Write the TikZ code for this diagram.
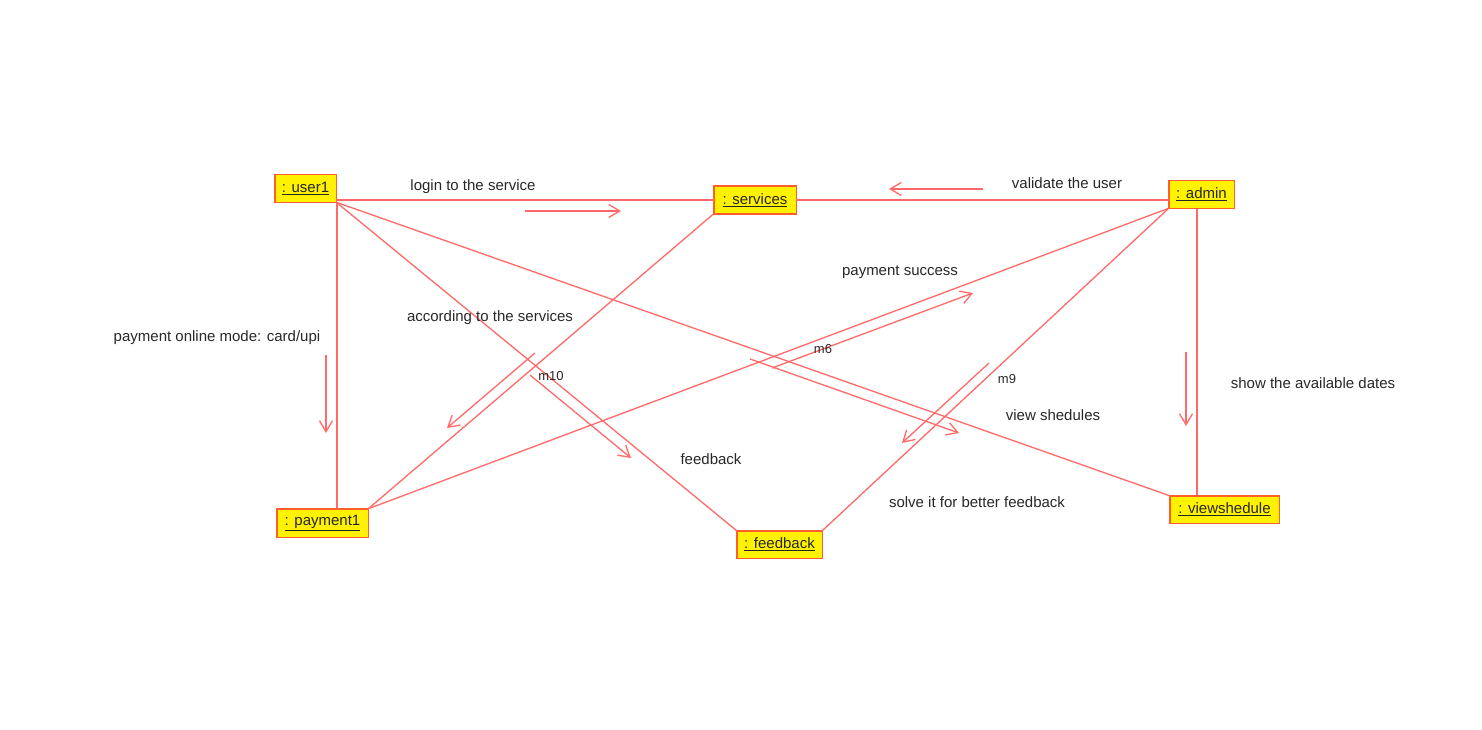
\documentclass[tikz,border=0pt]{standalone}
\usepackage{fontspec}
\setmainfont{Liberation Sans}
\usetikzlibrary{arrows.meta}
\definecolor{linkred}{RGB}{255,105,105}
\definecolor{boxedge}{RGB}{255,95,45}
\definecolor{txt}{RGB}{40,40,40}
\tikzset{
  objbox/.style={draw=boxedge, line width=1.5pt, fill=yellow, inner sep=0pt, outer sep=0pt,
    font=\fontsize{15}{18}\selectfont, text=black!85},
  link/.style={draw=linkred, line width=1.3pt},
  msg/.style={draw=linkred, line width=1.3pt, -{Straight Barb[length=11pt,width=13pt,line width=1.3pt]}},
  lbl/.style={font=\fontsize{15}{18}\selectfont, text=txt, inner sep=0pt},
  mlbl/.style={font=\fontsize{13}{15}\selectfont, text=txt, inner sep=0pt}
}
\begin{document}
\begin{tikzpicture}[x=1pt,y=-1pt]
\useasboundingbox[fill=white] (0,0) rectangle (1482,730);
% objects
\node[objbox, minimum width=61.5pt, minimum height=27.5pt] (user1) at (305.5,188.5) {\underline{: user1}};
\node[objbox, minimum width=82.5pt, minimum height=27.5pt] (services) at (755,200) {\underline{: services}};
\node[objbox, minimum width=65.5pt, minimum height=27.5pt] (admin) at (1201.5,194.5) {\underline{: admin}};
\node[objbox, minimum width=91.5pt, minimum height=28.5pt] (payment1) at (322.5,523) {\underline{: payment1}};
\node[objbox, minimum width=85.5pt, minimum height=27.5pt] (feedback) at (779.5,544.5) {\underline{: feedback}};
\node[objbox, minimum width=109.5pt, minimum height=27.5pt] (viewshedule) at (1224.5,509.5) {\underline{: viewshedule}};
% links
\draw[link] (user1.east |- services.west) -- (services.west);
\draw[link] (services.east) -- (admin.west |- services.east);
\draw[link] ([xshift=0.75pt]user1.south east) -- ([xshift=0.75pt]user1.south east |- payment1.north);
\draw[link] (user1.south east) -- (feedback.north west);
\draw[link] (user1.south east) -- (viewshedule.north west);
\draw[link] (services.south west) -- (payment1.north east);
\draw[link] (admin.south west) -- (payment1.north east);
\draw[link] (admin.south west) -- (feedback.north east);
\draw[link] ([xshift=-4.5pt]admin.south) -- ([xshift=-4.5pt]admin.south |- viewshedule.north);
% message arrow ends
\coordinate (m1s) at (525,211); \coordinate (m1e) at (621,211);
\coordinate (m2s) at (983,189); \coordinate (m2e) at (889,189);
\coordinate (m3s) at (326,355); \coordinate (m3e) at (326,433);
\coordinate (m4s) at (1186,352); \coordinate (m4e) at (1186,426);
\coordinate (m5s) at (535,353); \coordinate (m5e) at (447,428);
\coordinate (m6s) at (530,375); \coordinate (m6e) at (631,458);
\coordinate (m7s) at (772,368); \coordinate (m7e) at (973,293);
\coordinate (m8s) at (750,359); \coordinate (m8e) at (959,433);
\coordinate (m9s) at (989,363); \coordinate (m9e) at (902,443);
\draw[msg] (m1s) -- (m1e);
\draw[msg] (m2s) -- (m2e);
\draw[msg] (m3s) -- (m3e);
\draw[msg] (m4s) -- (m4e);
\draw[msg] (m5s) -- (m5e);
\draw[msg] (m6s) -- (m6e);
\draw[msg] (m7s) -- (m7e);
\draw[msg] (m8s) -- (m8e);
\draw[msg] (m9s) -- (m9e);
% labels
\node[lbl] (l1) at (473,187) {login to the service};
\node[lbl] (l2) at (1067,183) {validate the user};
\node[lbl] (l3) at (217,338) {payment online mode: card/upi};
\node[lbl] (l4) at (1313,383) {show the available dates};
\node[lbl] (l5) at (490,318) {according to the services};
\node[mlbl] (l6) at (551,376) {m10};
\node[lbl] (l7) at (711,459) {feedback};
\node[lbl] (l8) at (900,272) {payment success};
\node[mlbl] (l9) at (823,349) {m6};
\node[lbl] (l10) at (1053,415) {view shedules};
\node[mlbl] (l11) at (1007,379) {m9};
\node[lbl] (l12) at (977,502) {solve it for better feedback};
\end{tikzpicture}
\end{document}
